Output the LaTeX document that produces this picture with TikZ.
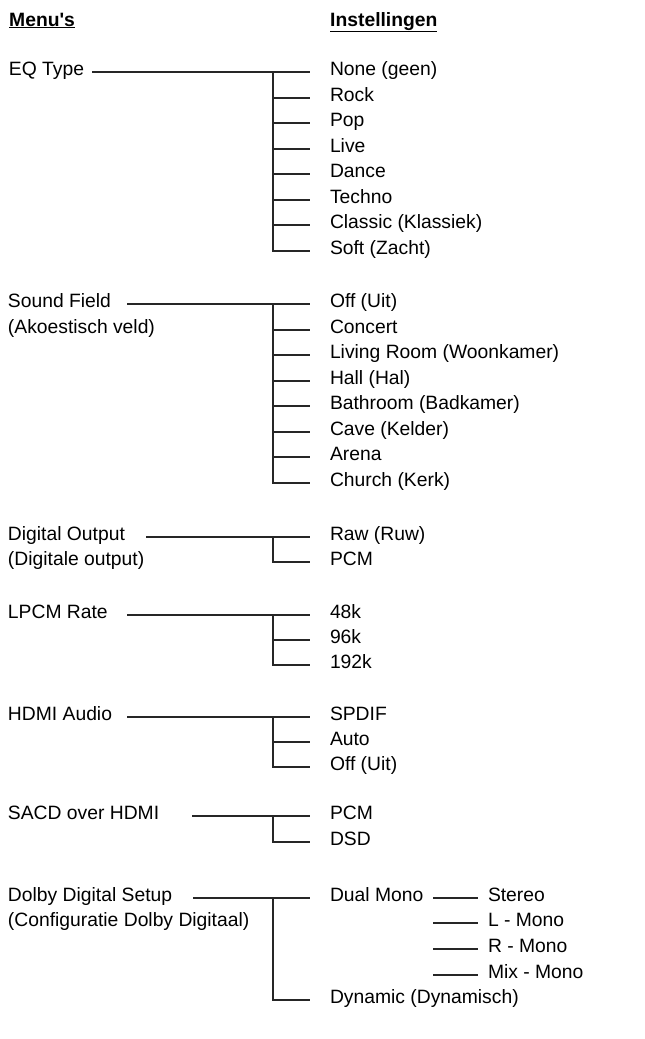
\documentclass[tikz,border=0pt]{standalone}
\usepackage{fontspec}
\setmainfont{Liberation Sans}
\begin{document}
\begin{tikzpicture}[x=1pt,y=-1pt,
  txt/.style={anchor=west,inner sep=0pt,outer sep=0pt,text height=0.72em,text depth=0.1em,font=\fontsize{19.3}{21}\selectfont},
  hdr/.style={anchor=base west,inner sep=0pt,font=\fontsize{19.3}{21}\selectfont\bfseries},
  conn/.style={line width=1.1pt,draw=black!85},
  br/.style={conn,shorten >=20pt},
  sb/.style={conn,shorten >=10pt}]
\useasboundingbox (0,0) rectangle (645,1039);
\coordinate (jx) at (273,0);
\coordinate (kx) at (433,0);
% headers
\node[hdr] (h1) at (9,26) {\underline{Menu\textquotesingle s}};
\node[hdr] (h2) at (330,26) {\underline{Instellingen}};
% ---- EQ Type
\node[txt] (m1) at (9,72) {EQ Type};
\coordinate (s1) at (92,72);
\foreach \t/\yy [count=\i from 0] in {None (geen)/72,Rock/98,Pop/123,Live/149,Dance/174,Techno/200,Classic (Klassiek)/225,Soft (Zacht)/251}
  \node[txt] (a\i) at (330,\yy) {\t};
\draw[br] (s1) -- (a0.west);
\draw[br] (a0.west -| jx) |- (a7.west);
\foreach \i in {1,...,6} \draw[br] (a\i.west -| jx) -- (a\i.west);
% ---- Sound Field
\node[txt] (m2) at (8,304) {Sound Field};
\node[txt] (m2b) at (8,330) {(Akoestisch veld)};
\coordinate (s2) at (127,304);
\foreach \t/\yy [count=\i from 0] in {Off (Uit)/304,Concert/330,Living Room (Woonkamer)/355,Hall (Hal)/381,Bathroom (Badkamer)/406,Cave (Kelder)/432,Arena/457,Church (Kerk)/483}
  \node[txt] (b\i) at (330,\yy) {\t};
\draw[br] (s2) -- (b0.west);
\draw[br] (b0.west -| jx) |- (b7.west);
\foreach \i in {1,...,6} \draw[br] (b\i.west -| jx) -- (b\i.west);
% ---- Digital Output
\node[txt] (m3) at (8,537) {Digital Output};
\node[txt] (m3b) at (8,562) {(Digitale output)};
\coordinate (s3) at (146,537);
\node[txt] (c0) at (330,537) {Raw (Ruw)};
\node[txt] (c1) at (330,562) {PCM};
\draw[br] (s3) -- (c0.west);
\draw[br] (c0.west -| jx) |- (c1.west);
% ---- LPCM Rate
\node[txt] (m4) at (8,615) {LPCM Rate};
\coordinate (s4) at (127,615);
\node[txt] (d0) at (330,615) {48k};
\node[txt] (d1) at (330,640) {96k};
\node[txt] (d2) at (330,665) {192k};
\draw[br] (s4) -- (d0.west);
\draw[br] (d0.west -| jx) |- (d2.west);
\draw[br] (d1.west -| jx) -- (d1.west);
% ---- HDMI Audio
\node[txt] (m5) at (8,717) {HDMI Audio};
\coordinate (s5) at (127,717);
\node[txt] (e0) at (330,717) {SPDIF};
\node[txt] (e1) at (330,742) {Auto};
\node[txt] (e2) at (330,767) {Off (Uit)};
\draw[br] (s5) -- (e0.west);
\draw[br] (e0.west -| jx) |- (e2.west);
\draw[br] (e1.west -| jx) -- (e1.west);
% ---- SACD over HDMI
\node[txt] (m6) at (8,816) {SACD over HDMI};
\coordinate (s6) at (192,816);
\node[txt] (f0) at (330,816) {PCM};
\node[txt] (f1) at (330,842) {DSD};
\draw[br] (s6) -- (f0.west);
\draw[br] (f0.west -| jx) |- (f1.west);
% ---- Dolby Digital Setup
\node[txt] (m7) at (8,898) {Dolby Digital Setup};
\node[txt] (m7b) at (8,923) {(Configuratie Dolby Digitaal)};
\coordinate (s7) at (193,898);
\node[txt] (g0) at (330,898) {Dual Mono};
\node[txt] (g1) at (330,1000) {Dynamic (Dynamisch)};
\draw[br] (s7) -- (g0.west);
\draw[br] (g0.west -| jx) |- (g1.west);
\foreach \t/\yy [count=\i from 0] in {Stereo/898,L - Mono/923,R - Mono/949,Mix - Mono/975}
  \node[txt] (k\i) at (488,\yy) {\t};
\foreach \i in {0,...,3} \draw[sb] (k\i.west -| kx) -- (k\i.west);
\end{tikzpicture}
\end{document}
